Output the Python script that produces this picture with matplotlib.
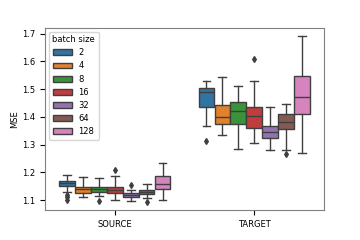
import numpy as np
import matplotlib
matplotlib.use("Agg")
import matplotlib.pyplot as plt
from matplotlib.patches import Patch

# data (per domain, per batch size)
domains = ["SOURCE", "TARGET"]
batch_sizes = ["2", "4", "8", "16", "32", "64", "128"]
colors = ["#3274a1", "#e1812c", "#3a923a", "#c03d3e", "#9372b2", "#845b53", "#d684bd"]

src_whislo = [1.130, 1.110, 1.116, 1.100, 1.098, 1.106, 1.100]
src_q1     = [1.151, 1.126, 1.130, 1.124, 1.112, 1.122, 1.139]
src_med    = [1.160, 1.139, 1.139, 1.136, 1.119, 1.128, 1.158]
src_q3     = [1.169, 1.148, 1.146, 1.148, 1.124, 1.136, 1.188]
src_whishi = [1.190, 1.182, 1.178, 1.188, 1.136, 1.157, 1.233]
src_fliers = [[1.118, 1.110, 1.100], [], [1.098], [1.208], [1.154], [1.094], []]

tgt_whislo = [1.367, 1.335, 1.285, 1.307, 1.281, 1.281, 1.269]
tgt_q1     = [1.435, 1.374, 1.375, 1.361, 1.324, 1.356, 1.410]
tgt_med    = [1.488, 1.401, 1.422, 1.404, 1.345, 1.381, 1.471]
tgt_q3     = [1.504, 1.441, 1.453, 1.437, 1.367, 1.410, 1.549]
tgt_whishi = [1.531, 1.543, 1.510, 1.528, 1.434, 1.447, 1.690]
tgt_fliers = [[1.313], [], [], [1.608], [], [1.265], []]

groups = [
    (src_whislo, src_q1, src_med, src_q3, src_whishi, src_fliers),
    (tgt_whislo, tgt_q1, tgt_med, tgt_q3, tgt_whishi, tgt_fliers),
]

plt.rcParams["font.size"] = 6
fig, ax = plt.subplots(figsize=(3.6, 2.4), dpi=100)
fig.subplots_adjust(left=0.125, right=0.9, top=0.885, bottom=0.125)

n = len(batch_sizes)
w = 0.8 / n
edge = "#3f3f3f"
for gi, (lo, q1, med, q3, hi, fl) in enumerate(groups):
    for j in range(n):
        st = dict(whislo=lo[j], q1=q1[j], med=med[j], q3=q3[j], whishi=hi[j], fliers=fl[j])
        pos = gi - 0.4 + w / 2 + j * w
        ax.bxp([st], positions=[pos], widths=w * 0.98, patch_artist=True, showfliers=True,
               boxprops=dict(facecolor=colors[j], edgecolor=edge, linewidth=1),
               medianprops=dict(color=edge, linewidth=1),
               whiskerprops=dict(color=edge, linewidth=1),
               capprops=dict(color=edge, linewidth=1),
               flierprops=dict(marker="d", markerfacecolor=edge, markeredgecolor=edge, markersize=3))

ax.set_xlim(-0.5, 1.5)
ax.set_ylim(1.064, 1.722)
ax.set_xticks([0, 1])
ax.set_xticklabels(domains)
ax.set_yticks([1.1, 1.2, 1.3, 1.4, 1.5, 1.6, 1.7])
ax.set_ylabel("MSE", labelpad=2)
for s in ax.spines.values():
    s.set_color("#808080")

handles = [Patch(facecolor=c, edgecolor=edge, label=b) for c, b in zip(colors, batch_sizes)]
ax.legend(handles=handles, title="batch size", loc="upper left", fontsize=6, title_fontsize=6,
          handlelength=2.2)

fig.savefig("out.png")
